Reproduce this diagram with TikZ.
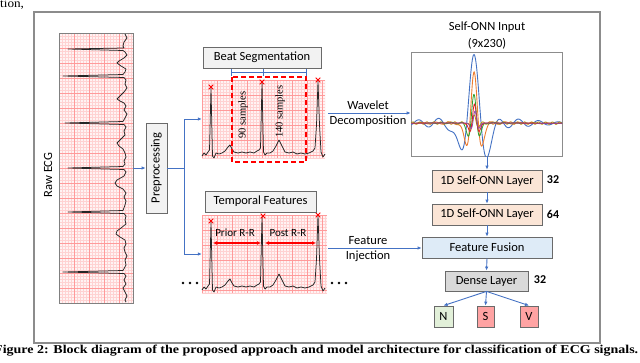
\documentclass[tikz,border=0pt]{standalone}
\usepackage{fontspec}
\setmainfont{Carlito}
\newfontfamily\capfont{Liberation Serif}
\usetikzlibrary{arrows.meta}
\definecolor{arrowblue}{HTML}{4472C4}
\definecolor{framegray}{HTML}{8C8C8C}
\definecolor{boxborder}{HTML}{6A6A6A}
\definecolor{peach}{HTML}{FBE5D6}
\definecolor{fusionblue}{HTML}{DEEBF7}
\definecolor{densegray}{HTML}{D9D9D9}
\definecolor{ngreen}{HTML}{E2F0D9}
\definecolor{sred}{HTML}{FFA3A3}
\definecolor{gridbg}{HTML}{FFF3F3}
\definecolor{gridminor}{HTML}{FFD2D2}
\definecolor{gridmajor}{HTML}{FF9A9A}
\definecolor{wblue}{HTML}{4472C4}
\definecolor{worange}{HTML}{ED7D31}
\definecolor{wgreen}{HTML}{2CA02C}
\definecolor{wred}{HTML}{E02020}
\definecolor{wpurple}{HTML}{8E44AD}
\definecolor{wolive}{HTML}{BF9000}
\newcommand\ecggrid[4]{%
  \fill[gridbg] (#1,#2) rectangle (#3,#4);
  \begin{scope}
    \clip (#1,#2) rectangle (#3,#4);
    \foreach \gg in {0,3,...,270} {
      \draw[gridminor, line width=0.3pt] ({#1+\gg},#2) -- ({#1+\gg},#4);
      \draw[gridminor, line width=0.3pt] (#1,{#2+\gg}) -- (#3,{#2+\gg});
    }
    \foreach \gg in {0,15,...,270} {
      \draw[gridmajor, line width=0.5pt] ({#1+\gg},#2) -- ({#1+\gg},#4);
      \draw[gridmajor, line width=0.5pt] (#1,{#2+\gg}) -- (#3,{#2+\gg});
    }
  \end{scope}}
\newcommand\rmark[2]{\draw[red, line width=0.8pt] ({#1-2.3},{#2-2.3}) -- ({#1+2.3},{#2+2.3}) ({#1-2.3},{#2+2.3}) -- ({#1+2.3},{#2-2.3});}
\newcommand\segtrace{%
  \draw[ecgline] (202,156) -- (204,153) -- (206,155) -- (208,152) -- (209.5,150) -- (211,88) -- (212.5,156) -- (214,158) -- (216,153) -- (219,154) -- (222,153) -- (225,151) -- (228,147) -- (230,145) -- (232,149) -- (234,152) -- (238,153) -- (242,152) -- (246,153) -- (250,152) -- (254,153) -- (257,151) -- (259,150) -- (260.5,148) -- (262,83) -- (263.5,152) -- (265,155) -- (267,153) -- (270,153) -- (273,151) -- (276,146) -- (279,140) -- (282,146) -- (285,152) -- (289,153) -- (293,152) -- (297,154) -- (301,153) -- (305,154) -- (309,153) -- (313,151) -- (315,148) -- (316.5,125) -- (318,81) -- (319.5,125) -- (321,152) -- (323,157) -- (325,154);}
\begin{document}
\begin{tikzpicture}[x=1pt,y=-1pt,
  lbl/.style={font=\fontsize{12.5}{13}\selectfont},
  box/.style={draw=boxborder, line width=0.8pt, inner sep=0pt, lbl},
  layer/.style={box, fill=peach, minimum width=110pt, minimum height=22pt},
  outbox/.style={box, minimum width=18pt, minimum height=21pt},
  arrowline/.style={draw=arrowblue, line width=0.9pt, -{Latex[length=4pt,width=3.5pt]}},
  plainline/.style={draw=arrowblue, line width=0.9pt},
  ecgline/.style={draw=black!85, line width=0.75pt, line join=round},
  num/.style={font=\bfseries\fontsize{12}{13}\selectfont, inner sep=0pt},
  declare function={mh(\mhT,\mhS)=(1-(\mhT/\mhS)^2)*exp(max(-0.5*(\mhT/\mhS)^2,-20));}
]
\useasboundingbox (0,0) rectangle (640,362);
\clip (0,0) rectangle (640,362);

% outer frame
\draw[framegray, line width=1.5pt] (34,12) rectangle (600,343);

% clipped page text
\node[anchor=base west, inner sep=0pt] (tion) at (0,7) {\scalebox{1.1}[1]{\capfont\fontsize{12}{12}\selectfont tion,}};
\node[anchor=base west, inner sep=0pt] (caption) at (-6,353) {\resizebox{644pt}{\height}{\capfont\bfseries\fontsize{12}{12}\selectfont Figure 2: Block diagram of the proposed approach and model architecture for classification of ECG signals.}};

% raw ECG strip
\ecggrid{59}{33}{133}{303}
\node[draw=gray, line width=0.5pt, minimum width=74pt, minimum height=270pt, inner sep=0pt] (rawecg) at (96,168) {};
\draw[ecgline] (125,34) -- (127,38) -- (124,42) -- (123,46) -- (124,48) -- (68,49) -- (123,50.5) -- (125,52) -- (127,55) -- (124,58) -- (119,61) -- (117,63) -- (121,66) -- (126,69) -- (125,72) -- (123,74.5) -- (63,76) -- (124,77.5) -- (126,80) -- (125,84) -- (127,88) -- (124,92) -- (120,96) -- (117,99) -- (120,101) -- (124,103) -- (126,106) -- (124,110) -- (127,114) -- (125,118) -- (123,121.5) -- (65,123) -- (124,124.5) -- (126,127) -- (124,131) -- (125,135) -- (121,139) -- (117,143) -- (119,146) -- (123,149) -- (125,153) -- (126,157) -- (124,161) -- (125,164) -- (123,166.5) -- (68,168) -- (124,169.5) -- (126,172) -- (124,176) -- (117,180) -- (115,183) -- (117,186) -- (123,189) -- (126,193) -- (124,197) -- (126,201) -- (125,205) -- (123,210.5) -- (68,212) -- (124,213.5) -- (126,216) -- (125,220) -- (126,224) -- (121,228) -- (117,231) -- (116,234) -- (120,237) -- (125,240) -- (126,244) -- (124,248) -- (125,252) -- (127,256) -- (125,260) -- (126,265) -- (123,270.5) -- (63,272) -- (124,273.5) -- (126,276) -- (124,280) -- (126,284) -- (123,288) -- (125,292) -- (127,296) -- (125,300) -- (126,302);
\node[lbl, inner sep=0pt] (rawlabel) at (48,175) {\rotatebox{90}{Raw ECG}};

% preprocessing
\node[box, fill=black!5, minimum width=21pt, minimum height=90pt] (preproc) at (156.5,168) {\rotatebox{90}{Preprocessing}};
\draw[arrowline] (rawecg.east) -- (preproc.west);

% beat segmentation strip
\ecggrid{202}{80}{325}{158}
\node[inner sep=0pt, minimum width=123pt, minimum height=78pt] (seggrid) at (263.5,119) {};
\segtrace
\rmark{211}{87}\rmark{262}{82}\rmark{318}{80}
\draw[red, dashed, line width=1.4pt, dash pattern=on 5pt off 3pt] (232,77) rectangle (306,162);
\node[font=\capfont\fontsize{10.5}{11}\selectfont, inner sep=0pt] (s90) at (243,115) {\rotatebox{90}{90 samples}};
\node[font=\capfont\fontsize{10.5}{11}\selectfont, inner sep=0pt] (s140) at (280,111.5) {\rotatebox{90}{140 samples}};
\node[box, fill=black!5, minimum width=118pt, minimum height=21pt] (seg) at (262,57.5) {Beat Segmentation};
\draw[plainline] (231,72) -- (306,72) (231,69) -- (231,76) (263,69) -- (263,76) (306,69) -- (306,76);

% temporal features strip
\ecggrid{202}{215}{327}{293}
\node[inner sep=0pt, minimum width=125pt, minimum height=78pt] (tempgrid) at (264.5,254) {};
\begin{scope}[shift={(0,134)}]
\segtrace
\end{scope}
\rmark{211}{221}\rmark{263}{216}\rmark{318}{215}
\draw[red, line width=1.2pt, {Latex[length=4pt,width=4pt]}-{Latex[length=4pt,width=4pt]}] (213,243) -- (261,243);
\draw[red, line width=1.2pt, {Latex[length=4pt,width=4pt]}-{Latex[length=4pt,width=4pt]}] (265,243) -- (316,243);
\node[font=\fontsize{11}{12}\selectfont, inner sep=0pt] (prior) at (235,233) {Prior R-R};
\node[font=\fontsize{11}{12}\selectfont, inner sep=0pt] (post) at (288,233) {Post R-R};
\node[box, fill=black!5, minimum width=111pt, minimum height=21pt] (temp) at (260.5,201.5) {Temporal Features};
\foreach \dx in {183,190,197,332,339,346} \fill[black] (\dx,283) circle (1.4pt);

% split from preprocessing
\coordinate (split) at (184,168);
\draw[plainline] (preproc.east) -- (split);
\draw[arrowline] (split) |- (seggrid.west);
\draw[arrowline] (split) |- (tempgrid.west);

% right column
\node[draw=framegray, line width=0.7pt, fill=white, minimum width=151pt, minimum height=104pt, inner sep=0pt] (plot) at (486.5,104) {};
\begin{scope}
\clip (411,52) rectangle (562,156);
\draw[wblue, line width=0.9pt, domain=411:562, samples=300, smooth] plot (\x, {123 - 68*mh(\x-473.5,7.2) - 6*sin(deg(0.314*(\x-473.5)))*exp(max(-((\x-473.5)/70)^2,-20))});
\draw[worange, line width=0.9pt, domain=411:562, samples=300, smooth] plot (\x, {123 - 51*mh(\x-474,4.3) - 1.5*sin(deg(0.45*(\x-474)))*exp(max(-((\x-474)/60)^2,-20))});
\draw[wolive, line width=0.8pt, domain=411:562, samples=300, smooth] plot (\x, {123 - 8*mh(\x-474,2.2) - 1.2*sin(deg(0.9*(\x-474)))});
\draw[wgreen, line width=0.8pt, domain=411:562, samples=300, smooth] plot (\x, {123 - 28*mh(\x-474,3.2) - 1*sin(deg(0.6*(\x-470)))*exp(max(-((\x-474)/40)^2,-20))});
\draw[wred, line width=0.8pt, domain=411:562, samples=300, smooth] plot (\x, {123 - 19*mh(\x-474.5,2.6)});
\draw[wpurple, line width=0.7pt, domain=411:562, samples=300, smooth] plot (\x, {123 - 12*mh(\x-475,2.2)});
\end{scope}
\node[lbl, inner sep=0pt] (inlabel) at (487,27) {Self-ONN Input};
\node[lbl, inner sep=0pt] (insize) at (487,44) {(9x230)};

\coordinate (wv) at (328,113);
\draw[arrowline] (wv) -- (wv -| plot.west);
\node[lbl, inner sep=0pt] (wavelet) at (368,105) {Wavelet};
\node[lbl, inner sep=0pt] (decomp) at (368,121) {Decomposition};

\node[layer] (l1) at (487,181) {1D Self-ONN Layer};
\node[layer, minimum height=21pt] (l2) at (487,214.5) {1D Self-ONN Layer};
\node[box, fill=fusionblue, minimum width=130pt, minimum height=21pt] (fusion) at (487,247.5) {Feature Fusion};
\node[box, fill=densegray, minimum width=83pt, minimum height=20pt] (dense) at (486.5,281) {Dense Layer};
\node[outbox, fill=ngreen, minimum width=19pt] (N) at (443.5,316.5) {N};
\node[outbox, fill=sred, minimum width=17pt] (S) at (485.5,316.5) {S};
\node[outbox, fill=sred] (V) at (529,316.5) {V};
\node[num] (n1) at (553,180) {32};
\node[num] (n2) at (553,214) {64};
\node[num] (n3) at (540,280) {32};

\draw[arrowline] (plot.south -| l1.north) -- (l1.north);
\draw[arrowline] (l1.south) -- (l2.north);
\draw[arrowline] (l2.south) -- (fusion.north);
\draw[arrowline] (fusion.south) -- (dense.north);
\draw[arrowline] (dense.south) -- (N.north);
\draw[arrowline] (dense.south) -- (S.north);
\draw[arrowline] (dense.south) -- (V.north);

\coordinate (fi) at (328,248);
\draw[arrowline] (fi) -- (fi -| fusion.west);
\node[lbl, inner sep=0pt] (feat) at (368,241) {Feature};
\node[lbl, inner sep=0pt] (inj) at (368,256) {Injection};
\end{tikzpicture}
\end{document}
